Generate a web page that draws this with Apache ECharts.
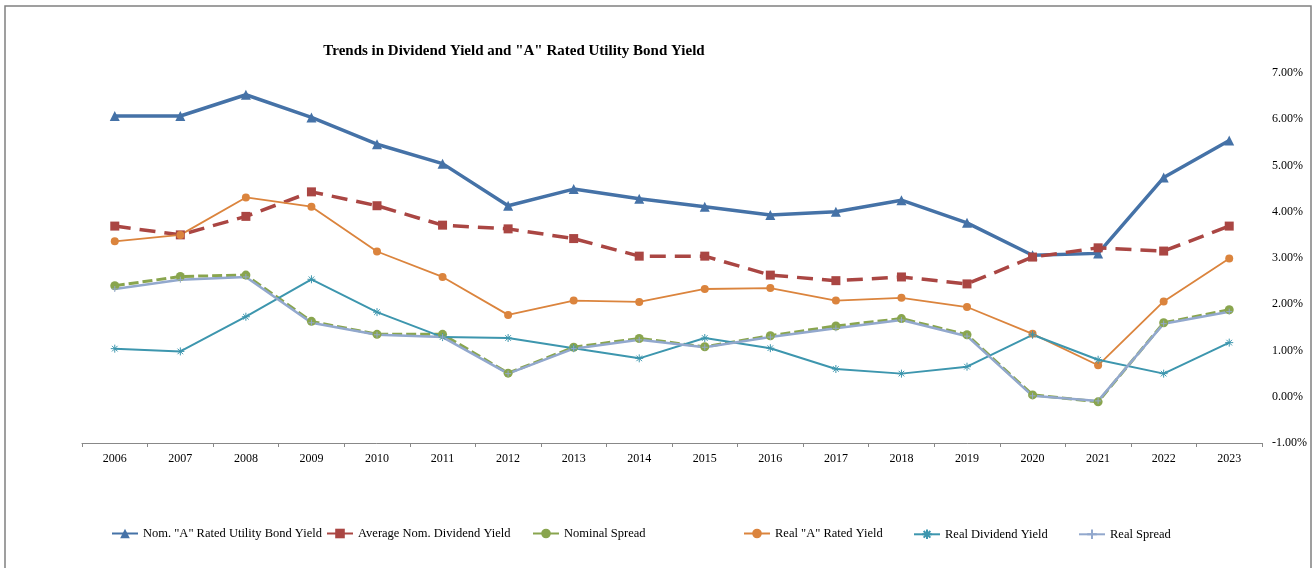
<!DOCTYPE html>
<html lang="en">
<head>
    <meta charset="UTF-8">
    <title>Trends in Dividend Yield</title>
    <style type="text/css">
        html,
        body,
        .canvas {
            padding: 0;
            margin: 0;
            overflow: hidden;
            background-color: #ffffff;
            width: 1312px;
            height: 568px;
        }
    </style>
</head>
<body>
<div class="canvas" id="chart"></div>
<script type="text/javascript" src="https://cdn.jsdelivr.net/npm/echarts@6/dist/echarts.min.js"></script>
<script>
    const years = ['2006', '2007', '2008', '2009', '2010', '2011', '2012', '2013', '2014',
        '2015', '2016', '2017', '2018', '2019', '2020', '2021', '2022', '2023'];
    const nomBond = [6.07, 6.07, 6.53, 6.04, 5.46, 5.04, 4.13, 4.49, 4.28, 4.11, 3.93, 4.00, 4.25, 3.76, 3.06, 3.10, 4.74, 5.54];
    const avgDiv = [3.69, 3.50, 3.90, 4.43, 4.13, 3.71, 3.63, 3.42, 3.04, 3.04, 2.63, 2.51, 2.59, 2.44, 3.02, 3.22, 3.15, 3.69];
    const nomSpread = [2.40, 2.60, 2.63, 1.63, 1.35, 1.35, 0.51, 1.07, 1.26, 1.08, 1.32, 1.53, 1.69, 1.34, 0.04, -0.11, 1.60, 1.88];
    const realBond = [3.36, 3.50, 4.31, 4.11, 3.14, 2.59, 1.77, 2.08, 2.05, 2.33, 2.35, 2.08, 2.14, 1.94, 1.36, 0.68, 2.06, 2.99];
    const realDiv = [1.04, 0.98, 1.73, 2.54, 1.83, 1.29, 1.27, 1.05, 0.83, 1.27, 1.05, 0.60, 0.50, 0.65, 1.34, 0.80, 0.50, 1.17];
    const realSpread = [2.33, 2.53, 2.59, 1.60, 1.34, 1.29, 0.50, 1.04, 1.23, 1.07, 1.29, 1.48, 1.66, 1.31, 0.02, -0.09, 1.58, 1.84];

    const names = ['Nom. "A" Rated Utility Bond Yield', 'Average Nom. Dividend Yield', 'Nominal Spread',
        'Real "A" Rated Yield', 'Real Dividend Yield', 'Real Spread'];
    const legendLeft = [106, 321, 527, 738, 908, 1073];

    const font = 'Liberation Serif, Times New Roman, serif';
    const asterisk = 'path://M0,5L10,5M5,0L5,10M1.5,1.5L8.5,8.5M8.5,1.5L1.5,8.5';
    const plus = 'path://M0,5L10,5M5,0L5,10';

    const chart = echarts.init(document.getElementById('chart'));

    const legends = names.map(function (n, i) {
        return {
            data: [n],
            left: legendLeft[i],
            top: 522,
            itemWidth: 26,
            itemHeight: 12,
            itemGap: 0,
            lineStyle: {type: 'solid'},
            textStyle: {fontFamily: font, fontSize: 12.5, color: '#000'}
        };
    });

    chart.setOption({
        animation: false,
        backgroundColor: '#fff',
        title: {
            text: 'Trends in Dividend Yield and "A" Rated Utility Bond Yield',
            left: 509,
            top: 39,
            textAlign: 'center',
            textStyle: {fontFamily: font, fontSize: 15, fontWeight: 'bold', color: '#000'}
        },
        graphic: [{
            type: 'rect',
            shape: {x: 5, y: 6, width: 1306, height: 600},
            style: {fill: 'none', stroke: '#808080', lineWidth: 1.5}
        }],
        legend: legends,
        grid: {left: 82, right: 50, top: 73, bottom: 125},
        xAxis: {
            type: 'category',
            data: years,
            boundaryGap: true,
            axisLine: {onZero: false, lineStyle: {color: '#888', width: 1}},
            axisTick: {show: true, length: 4, lineStyle: {color: '#888'}},
            axisLabel: {fontFamily: font, fontSize: 12, color: '#000', margin: 10}
        },
        yAxis: {
            type: 'value',
            position: 'right',
            min: -1,
            max: 7,
            interval: 1,
            axisLine: {show: false},
            axisTick: {show: false},
            splitLine: {show: false},
            axisLabel: {
                fontFamily: font, fontSize: 12, color: '#000', margin: 10,
                formatter: function (v) { return v.toFixed(2) + '%'; }
            }
        },
        series: [
            {
                name: names[0], type: 'line', data: nomBond,
                symbol: 'triangle', symbolSize: 10,
                lineStyle: {color: '#4572A7', width: 3.5},
                itemStyle: {color: '#4572A7'}
            },
            {
                name: names[1], type: 'line', data: avgDiv,
                symbol: 'rect', symbolSize: 9,
                lineStyle: {color: '#AA4643', width: 3.5, type: [16, 9]},
                itemStyle: {color: '#AA4643'}
            },
            {
                name: names[2], type: 'line', data: nomSpread,
                symbol: 'circle', symbolSize: 9,
                lineStyle: {color: '#89A54E', width: 3, type: [10, 4]},
                itemStyle: {color: '#89A54E'}
            },
            {
                name: names[3], type: 'line', data: realBond,
                symbol: 'circle', symbolSize: 8,
                lineStyle: {color: '#DB843D', width: 1.8},
                itemStyle: {color: '#DB843D'}
            },
            {
                name: names[4], type: 'line', data: realDiv,
                symbol: asterisk, symbolSize: 8,
                lineStyle: {color: '#3D96AE', width: 2},
                itemStyle: {color: 'none', borderColor: '#3D96AE', borderWidth: 1}
            },
            {
                name: names[5], type: 'line', data: realSpread,
                symbol: plus, symbolSize: 6,
                lineStyle: {color: '#92A8CD', width: 2.5},
                itemStyle: {color: 'none', borderColor: '#92A8CD', borderWidth: 1}
            }
        ]
    });
</script>
</body>
</html>
